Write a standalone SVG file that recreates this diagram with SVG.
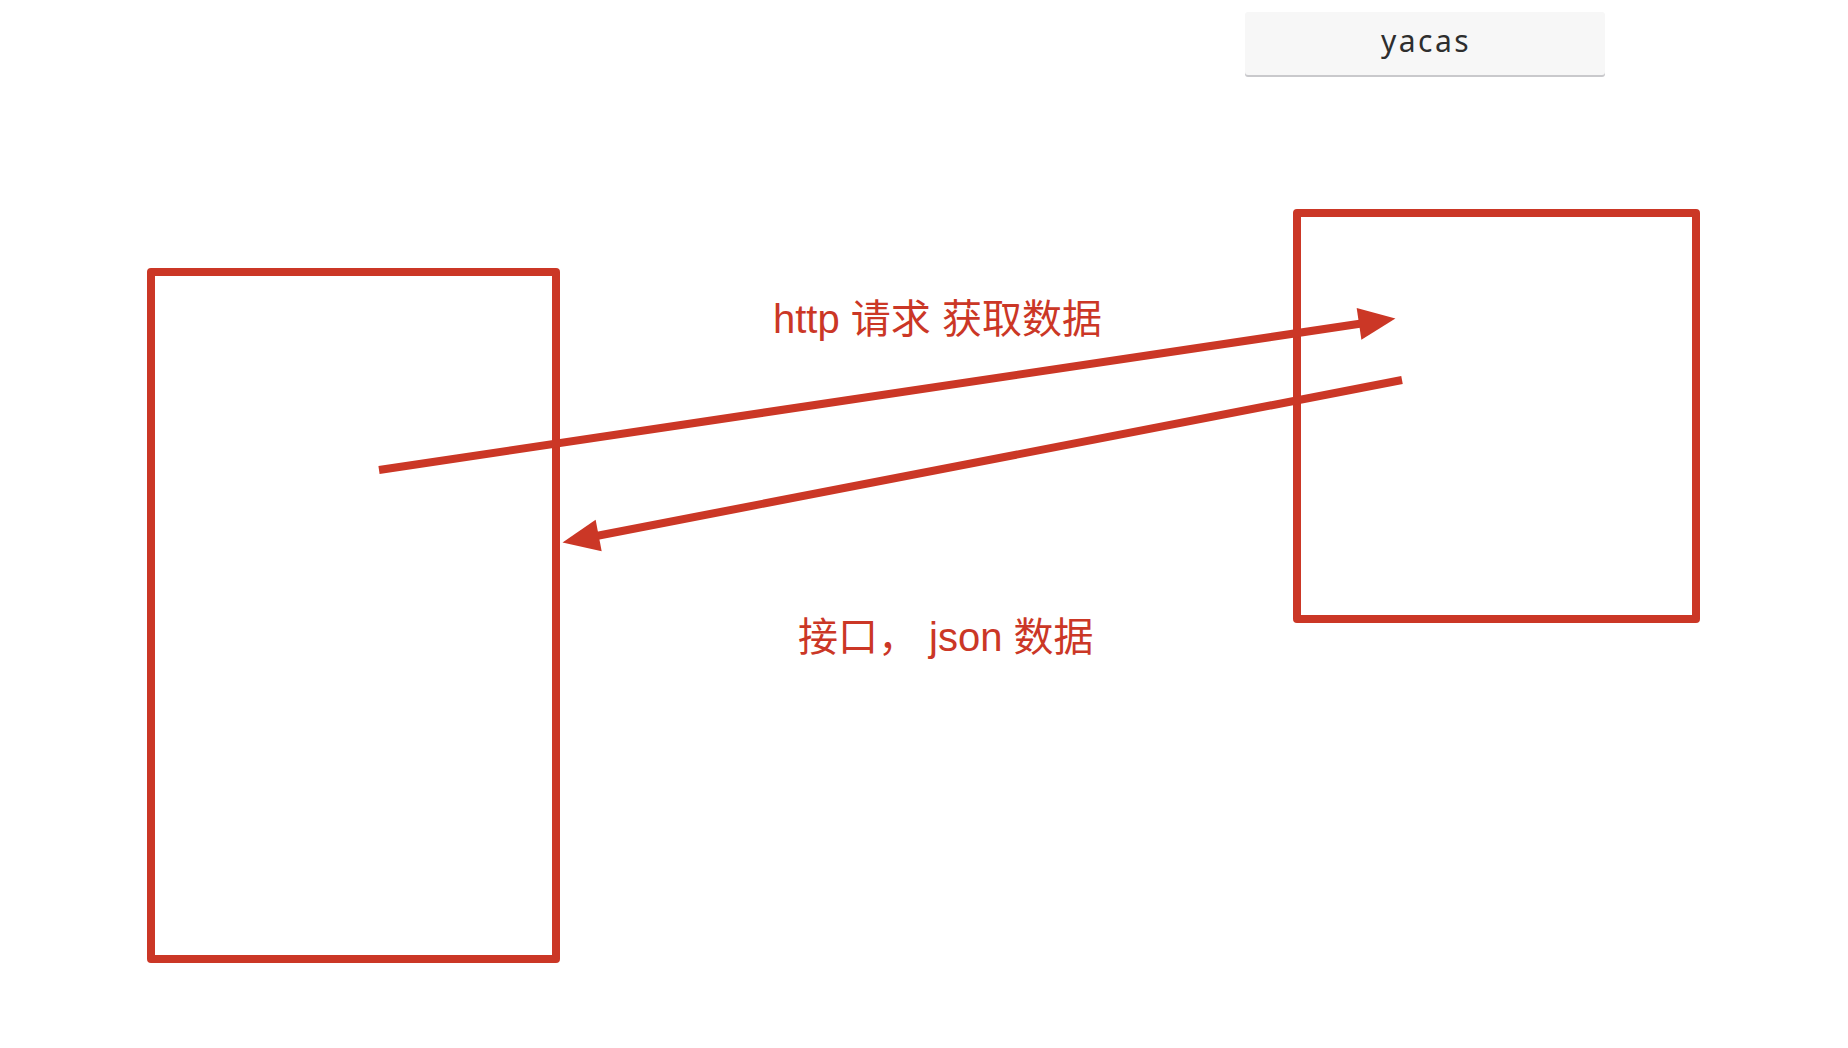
<svg xmlns="http://www.w3.org/2000/svg" width="1848" height="1048" viewBox="0 0 1848 1048">
  <style>
    .box { fill: none; stroke: #cb3726; stroke-width: 8; stroke-linejoin: round; }
    .conn { fill: none; stroke: #cb3726; stroke-width: 8; stroke-linecap: butt; }
    .lbl { fill: #cb3726; font-family: "Liberation Sans", "Noto Sans CJK SC", sans-serif; font-size: 40px; }
    .ttl { fill: #2e2e2e; font-family: "Noto Sans", "DejaVu Sans", sans-serif; font-size: 30px; letter-spacing: 2.5px; }
  </style>
  <defs>
    <marker id="ah" markerUnits="strokeWidth" markerWidth="4.6" markerHeight="4" refX="0.3" refY="2" orient="auto" overflow="visible">
      <path d="M0,0 L4.6,2 L0,4 Z" fill="#cb3726"/>
    </marker>
  </defs>
  <rect width="1848" height="1048" fill="#ffffff"/>

  <g id="title">
    <rect x="1245" y="14" width="360" height="63" rx="3" fill="#c9c9cc"/>
    <rect x="1245" y="12" width="360" height="63" rx="3" fill="#f7f7f7"/>
    <text class="ttl" x="1426" y="52" text-anchor="middle">yacas</text>
  </g>

  <g id="client">
    <rect class="box" x="151" y="272" width="405" height="687"/>
  </g>

  <g id="server">
    <rect class="box" x="1297" y="213" width="399" height="406"/>
  </g>

  <g id="connectors">
    <line class="conn" x1="379" y1="470" x2="1361.4" y2="323.5" marker-end="url(#ah)"/>
    <line class="conn" x1="1402" y1="380" x2="596.3" y2="536" marker-end="url(#ah)"/>
  </g>

  <g id="labels">
    <text class="lbl" x="773" y="333">http 请求 获取数据</text>
    <text class="lbl" x="798" y="651">接口， json 数据</text>
  </g>
</svg>
